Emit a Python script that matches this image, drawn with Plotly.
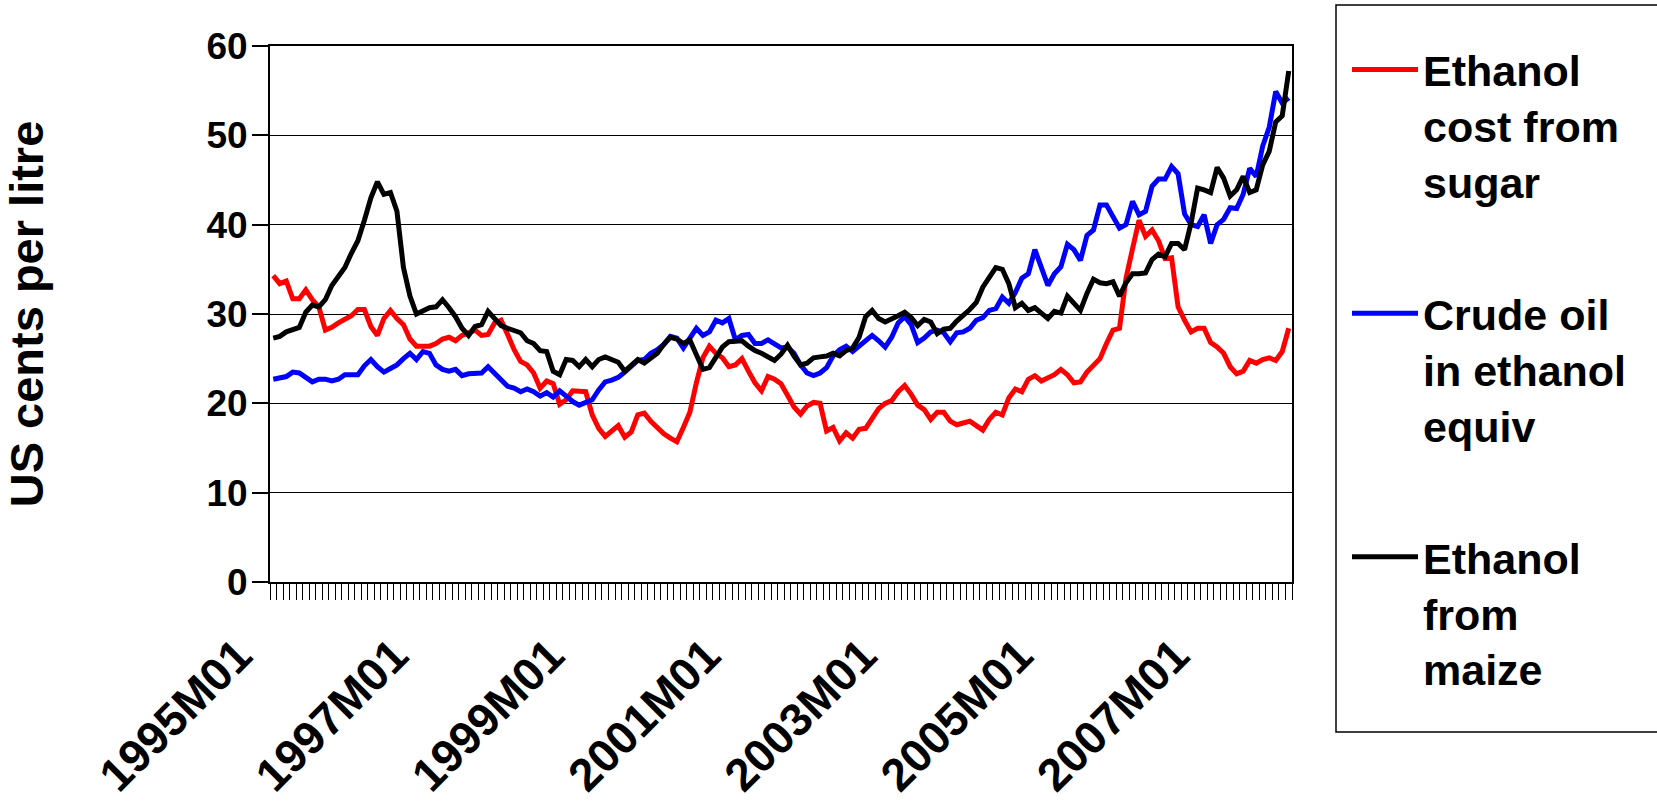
import plotly.graph_objects as go

# Monthly series, 1995M01 .. 2008M01 (US cents per litre)
years = list(range(1995, 2009))
months = [f"{y}M{m:02d}" for y in years for m in range(1, 13)][:157]

sugar = [
    34.3, 33.4, 33.7, 31.7, 31.7, 32.7, 31.6, 30.8, 28.2, 28.5, 29.0, 29.4,
    29.8, 30.5, 30.5, 28.6, 27.6, 29.5, 30.4, 29.5, 28.8, 27.2, 26.4, 26.4,
    26.4, 26.7, 27.2, 27.4, 27.0, 27.6, 27.9, 28.2, 27.6, 27.7, 29.0, 29.3,
    27.7, 26.0, 24.7, 24.3, 23.4, 21.7, 22.5, 22.2, 19.9, 20.4, 21.4, 21.4,
    21.3, 18.7, 17.2, 16.3, 16.9, 17.5, 16.2, 16.8, 18.7, 18.9, 18.0, 17.2,
    16.6, 16.1, 15.7, 17.3, 19.0, 22.3, 25.1, 26.4, 25.6, 25.1, 24.1, 24.3,
    25.0, 23.6, 22.3, 21.4, 23.0, 22.7, 22.2, 20.9, 19.6, 18.8, 19.7, 20.1,
    20.0, 16.9, 17.3, 15.8, 16.7, 16.1, 17.1, 17.2, 18.4, 19.4, 20.0, 20.3,
    21.3, 22.0, 21.0, 19.8, 19.3, 18.2, 19.0, 19.0, 18.0, 17.6, 17.8, 18.0,
    17.5, 17.0, 18.2, 19.0, 18.7, 20.6, 21.6, 21.3, 22.7, 23.1, 22.5, 22.9,
    23.2, 23.8, 23.2, 22.3, 22.4, 23.5, 24.3, 25.0, 26.7, 28.2, 28.4, 34.0,
    37.3, 40.5, 38.7, 39.4, 38.2, 36.2, 36.3, 30.8, 29.3, 28.0, 28.4, 28.4,
    26.8, 26.3, 25.6, 24.1, 23.3, 23.6, 24.8, 24.5, 24.9, 25.1, 24.8, 25.8,
    28.4,
]

crude = [
    22.7, 22.9, 23.0, 23.5, 23.4, 22.9, 22.4, 22.7, 22.7, 22.5, 22.7, 23.2,
    23.2, 23.2, 24.2, 24.9, 24.1, 23.5, 23.9, 24.3, 25.0, 25.6, 24.9, 25.8,
    25.6, 24.3, 23.8, 23.6, 23.8, 23.1, 23.3, 23.3, 23.4, 24.1, 23.4, 22.7,
    21.9, 21.7, 21.3, 21.6, 21.3, 20.8, 21.2, 20.7, 21.4, 20.8, 20.2, 19.8,
    20.1, 20.4, 21.5, 22.4, 22.6, 22.9, 23.5, 24.1, 24.8, 24.9, 25.6, 26.0,
    26.6, 27.5, 27.3, 26.2, 27.2, 28.4, 27.6, 28.0, 29.3, 29.0, 29.5, 27.1,
    27.6, 27.7, 26.7, 26.7, 27.1, 26.7, 26.2, 26.3, 25.6, 24.3, 23.4, 23.1,
    23.4, 24.0, 25.3, 26.0, 26.4, 25.8, 26.4, 26.9, 27.6, 27.0, 26.3, 27.4,
    29.0, 29.7, 28.8, 26.8, 27.3, 28.0, 28.2, 27.9, 26.9, 27.9, 28.0, 28.4,
    29.3, 29.6, 30.4, 30.6, 31.9, 31.2, 32.4, 34.0, 34.5, 37.2, 35.3, 33.2,
    34.5, 35.3, 37.8, 37.2, 36.0, 38.8, 39.4, 42.2, 42.2, 40.9, 39.6, 40.0,
    42.6, 41.1, 41.5, 44.3, 45.1, 45.1, 46.5, 45.7, 41.2, 40.0, 39.8, 41.1,
    37.9, 40.0, 40.6, 41.9, 41.8, 43.4, 46.3, 45.4, 48.8, 50.9, 54.9, 53.6,
    54.2,
]

maize = [
    27.3, 27.5, 28.0, 28.3, 28.5, 30.2, 31.0, 30.8, 31.6, 33.2, 34.2, 35.2,
    36.8, 38.2, 40.5, 43.0, 44.8, 43.4, 43.6, 41.5, 35.2, 32.0, 30.0, 30.3,
    30.7, 30.8, 31.6, 30.7, 29.7, 28.4, 27.6, 28.6, 28.8, 30.3, 29.4, 28.7,
    28.4, 28.2, 27.9, 27.0, 26.7, 25.9, 25.8, 23.6, 23.2, 24.9, 24.8, 24.1,
    24.9, 24.1, 24.9, 25.2, 24.9, 24.6, 23.6, 24.2, 24.9, 24.5, 25.1, 25.6,
    26.6, 27.4, 27.2, 26.7, 27.1, 25.3, 23.8, 24.0, 25.2, 26.3, 26.9, 27.0,
    27.0, 26.4, 25.9, 25.6, 25.2, 24.8, 25.5, 26.5, 25.3, 24.3, 24.5, 25.1,
    25.2, 25.3, 25.6, 25.3, 25.9, 26.2, 27.4, 29.7, 30.4, 29.5, 29.1, 29.4,
    29.8, 30.2, 29.6, 28.7, 29.4, 29.1, 27.8, 28.3, 28.4, 29.2, 29.8, 30.5,
    31.3, 33.0, 34.1, 35.2, 35.0, 33.4, 30.7, 31.2, 30.4, 30.7, 30.1, 29.5,
    30.3, 30.1, 32.0, 31.2, 30.4, 32.3, 33.9, 33.5, 33.4, 33.6, 32.0, 33.5,
    34.5, 34.5, 34.6, 36.1, 36.7, 36.4, 37.9, 37.9, 37.2, 40.2, 44.1, 43.9,
    43.6, 46.4, 45.2, 43.2, 43.9, 45.4, 43.6, 43.9, 46.7, 48.2, 51.5, 52.2,
    57.2,
]

series_lines = [
    ["Ethanol", "cost from", "sugar"],
    ["Crude oil", "in ethanol", "equiv"],
    ["Ethanol", "from", "maize"],
]
series_colors = ["#FF0000", "#0000FF", "#000000"]
series_values = [sugar, crude, maize]

tick_labels = ["1995M01", "1997M01", "1999M01", "2001M01", "2003M01", "2005M01", "2007M01"]
tick_positions = [months.index(t) for t in tick_labels]

FONT = "Liberation Sans, Arial, Helvetica, sans-serif"
LEG_SIZE = 43
LINE_W = 5

# Figure fills the whole window (page body margin removed below).
W, H = 1657, 802
# plot area in screen pixels
PX0, PX1, PY0, PY1 = 270, 1292, 46, 582
L, R, T, B = PX0, W - PX1, PY0, H - PY1
pw, ph = PX1 - PX0, PY1 - PY0


def px_x(px):
    return (px - PX0) / pw


def px_y(py):
    return (PY1 - py) / ph


# check whether this plotly supports a taller legend
use_legend = True
try:
    go.layout.Legend(maxheight=780)
except Exception:
    use_legend = False

fig = go.Figure()
for k, (lines, col, vals) in enumerate(zip(series_lines, series_colors, series_values)):
    fig.add_trace(go.Scatter(
        x=list(range(len(vals))), y=vals, mode="lines", name="<br>".join(lines),
        customdata=months[:len(vals)],
        line=dict(color=col, width=LINE_W),
        legendgroup=f"g{k}", showlegend=use_legend,
        hovertemplate=" ".join(lines) + "<br>%{customdata}: %{y}<extra></extra>",
    ))

# legend frame: its right side runs off the edge of the page, as in the original
layout_shapes = [dict(
    type="rect", xref="paper", yref="paper",
    x0=px_x(1336), x1=px_x(1720), y0=px_y(732), y1=px_y(5),
    line=dict(color="black", width=1.5), fillcolor="rgba(0,0,0,0)",
)]
annotations = []

if use_legend:
    legend_cfg = dict(
        x=px_x(1347), y=px_y(35), xanchor="left", yanchor="top",
        font=dict(family=FONT, size=LEG_SIZE, color="black", weight="bold"),
        bgcolor="rgba(0,0,0,0)", borderwidth=0,
        valign="top", tracegroupgap=73, itemwidth=66, maxheight=780,
    )
else:
    legend_cfg = dict()
    for k, (lines, col) in enumerate(zip(series_lines, series_colors)):
        yc = 72 + 243 * k
        layout_shapes.append(dict(
            type="line", xref="paper", yref="paper",
            x0=px_x(1353), x1=px_x(1409), y0=px_y(yc), y1=px_y(yc),
            line=dict(color=col, width=LINE_W),
        ))
        for j, txt in enumerate(lines):
            annotations.append(dict(
                xref="paper", yref="paper", x=px_x(1423), y=px_y(yc + 57 * j),
                xanchor="left", yanchor="middle", showarrow=False, text=txt,
                font=dict(family=FONT, size=LEG_SIZE, color="black", weight="bold"),
            ))

fig.update_layout(
    width=W, height=H,
    margin=dict(l=L, r=R, t=T, b=B, pad=0),
    plot_bgcolor="white", paper_bgcolor="white",
    font=dict(family=FONT, color="black", size=36, weight="bold"),
    showlegend=use_legend,
    legend=legend_cfg,
    xaxis=dict(
        range=[-0.5, len(months) - 0.5],
        tickmode="array", tickvals=tick_positions, ticktext=tick_labels,
        tickangle=-45, ticks="outside", ticklen=16, tickcolor="rgba(0,0,0,0)",
        ticklabelshift=-35, ticklabelstandoff=10,
        tickfont=dict(family=FONT, size=46, color="black", weight="bold"),
        minor=dict(tickmode="linear", tick0=-0.5, dtick=1, ticks="outside",
                   ticklen=16, tickwidth=1.3, tickcolor="black", showgrid=False),
        showgrid=False, zeroline=False,
        showline=True, linecolor="black", linewidth=2, mirror=True,
        automargin=False,
    ),
    yaxis=dict(
        range=[0, 60], tickmode="linear", tick0=0, dtick=10,
        ticks="outside", ticklen=16, tickwidth=1.5, tickcolor="black",
        ticklabelstandoff=-3,
        tickfont=dict(family=FONT, size=37, color="black", weight="bold"),
        showgrid=True, gridcolor="black", gridwidth=1.4,
        zeroline=False,
        showline=True, linecolor="black", linewidth=2, mirror=True,
        title=dict(text="US cents per litre", standoff=160,
                   font=dict(family=FONT, size=47, color="black", weight="bold")),
        automargin=False,
    ),
    shapes=layout_shapes,
    annotations=annotations,
)

fig.write_html(
    "out.html",
    config={"displayModeBar": False},
    post_script="document.body.style.margin='0px';document.body.style.overflow='hidden';",
)
